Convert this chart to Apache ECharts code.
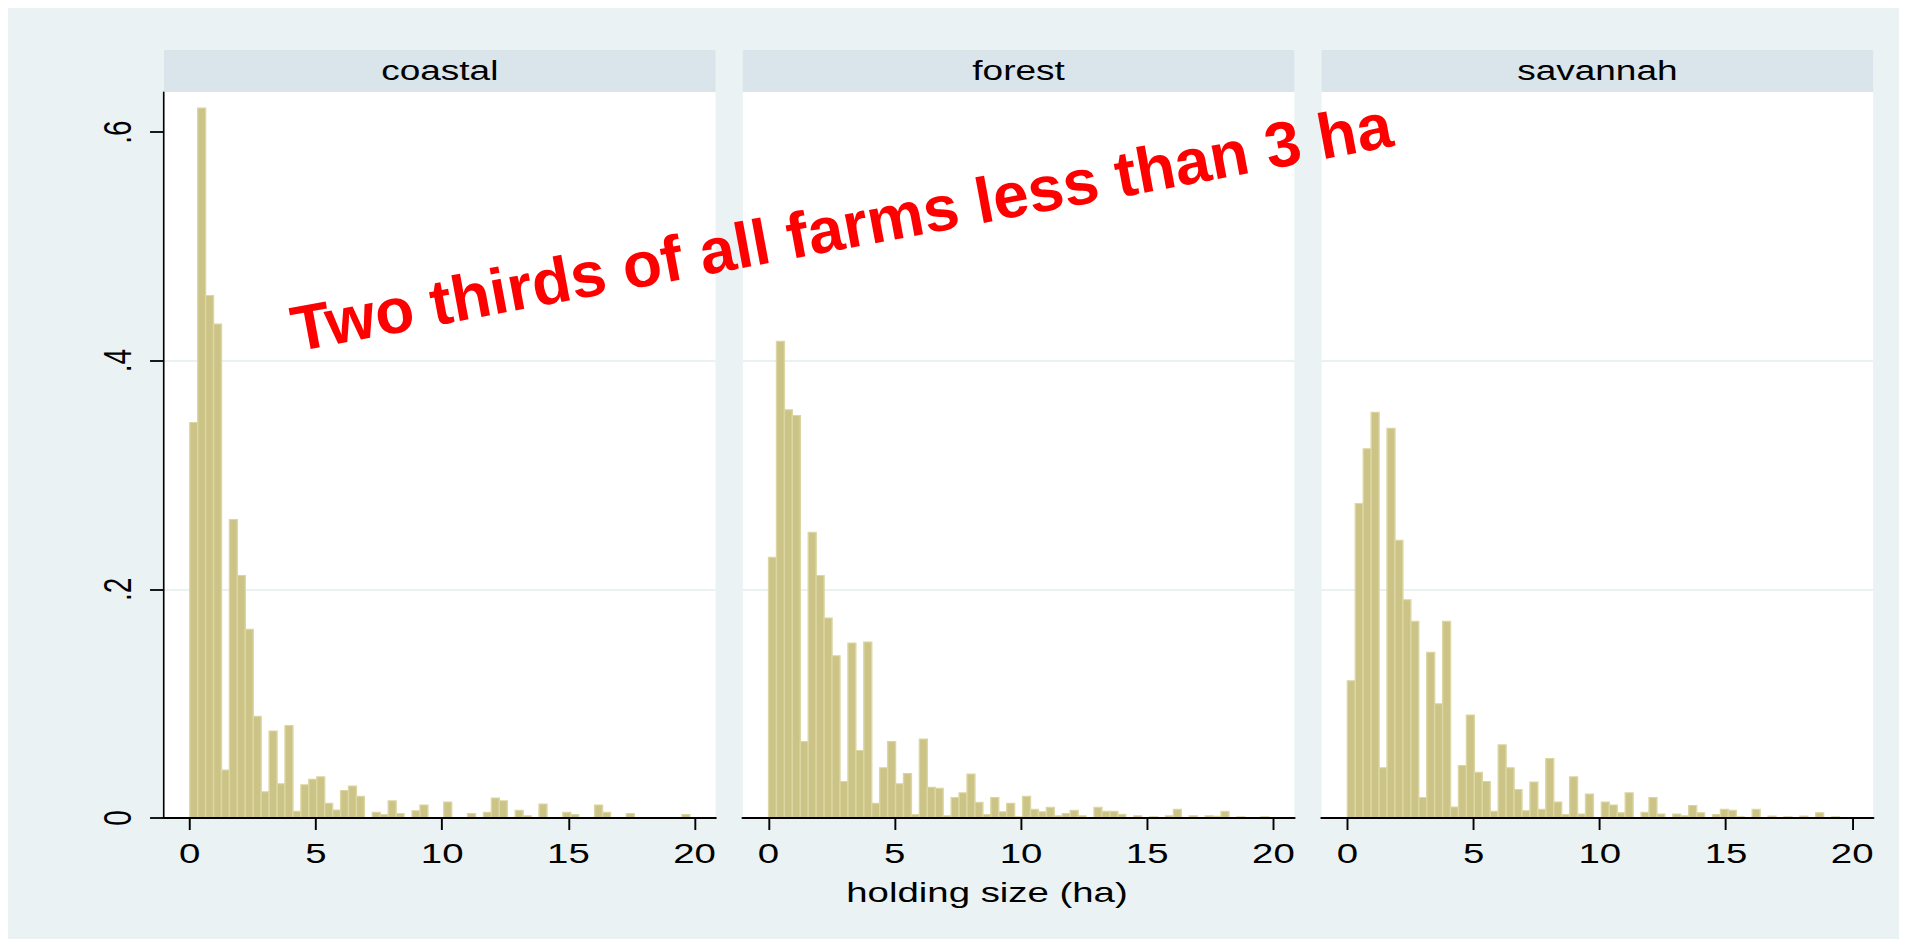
<!DOCTYPE html>
<html>
<head>
<meta charset="utf-8">
<title>holding size by region</title>
<script src="https://cdn.jsdelivr.net/npm/echarts@6/dist/echarts.min.js"></script>
<style>
  html, body { margin: 0; padding: 0; background: #fff; overflow: hidden; }
  /* the reference picture is stretched sideways, so the chart is drawn narrow and widened */
  #main { width: 1394px; height: 942px; transform: scaleX(1.3701); transform-origin: 0 0; }
</style>
</head>
<body>
<div id="main"></div>
<script>
  // histogram density per bin, bins start at 0
  const binWidth = 0.3145;
  const regions = ['coastal', 'forest', 'savannah'];
  const coastal = [0.346, 0.621, 0.457, 0.432, 0.042, 0.261, 0.212, 0.165, 0.089, 0.023,
    0.076, 0.030, 0.081, 0.006, 0.029, 0.034, 0.036, 0.013, 0.007, 0.024,
    0.028, 0.019, 0, 0.005, 0.003, 0.015, 0.004, 0, 0.0064, 0.0114,
    0, 0, 0.014, 0, 0, 0.004, 0, 0.005, 0.0175, 0.015,
    0, 0.0067, 0.002, 0, 0.0122, 0, 0, 0.005, 0.003, 0,
    0, 0.0114, 0.005, 0, 0, 0.004, 0, 0, 0, 0,
    0, 0, 0.003];
  const forest = [0.228, 0.417, 0.357, 0.352, 0.067, 0.250, 0.212, 0.175, 0.142, 0.032,
    0.153, 0.059, 0.154, 0.013, 0.044, 0.067, 0.030, 0.039, 0.003, 0.069,
    0.027, 0.026, 0.002, 0.018, 0.022, 0.0385, 0.0137, 0.003, 0.018, 0.0055,
    0.013, 0.001, 0.019, 0.0076, 0.0055, 0.0093, 0.002, 0.004, 0.0067, 0.002,
    0, 0.0093, 0.0058, 0.0058, 0.0032, 0, 0.002, 0, 0.0012, 0,
    0.002, 0.0076, 0, 0.002, 0, 0.002, 0.0015, 0.0058, 0, 0.0012,
    0, 0, 0.0012];
  const savannah = [0.120, 0.275, 0.323, 0.355, 0.044, 0.341, 0.243, 0.191, 0.172, 0.018,
    0.145, 0.100, 0.172, 0.0096, 0.046, 0.090, 0.040, 0.032, 0.006, 0.064,
    0.044, 0.025, 0.0064, 0.0315, 0.0076, 0.052, 0.014, 0.003, 0.036, 0.0035,
    0.021, 0, 0.014, 0.0114, 0.0047, 0.022, 0, 0.005, 0.018, 0.0035,
    0, 0.0035, 0.002, 0.011, 0.0047, 0, 0.003, 0.0076, 0.0067, 0.0012,
    0, 0.0076, 0, 0.0017, 0, 0.0012, 0, 0.0017, 0, 0.0047,
    0, 0.0012, 0];
  const xTicks = [0, 5, 10, 15, 20];
  const yTicks = [0, 0.2, 0.4, 0.6];
  const yTickLabels = ['0', '.2', '.4', '.6'];
  const xTitle = 'holding size (ha)';
  const note = 'Two thirds of all farms less than 3 ha';

  const stretch = 1.3701;
  const font = 'Liberation Sans';
  const panels = [coastal, forest, savannah];
  const panelWidth = 402.55;

  let grid = [], xAxis = [], yAxis = [], series = [];
  let graphic = [{
    type: 'rect', z: -100, silent: true,
    shape: { x: 8 / stretch, y: 8, width: 1891 / stretch, height: 931 },
    style: { fill: '#EAF2F3' }
  }];

  panels.forEach(function (values, i) {
    let left = 119.7 + i * 422.45;
    grid.push({ left: left, top: 92, width: panelWidth, height: 726, show: true, backgroundColor: '#fff', borderWidth: 0 });
    xAxis.push({
      type: 'value', gridIndex: i, min: -1.02, max: 20.83, z: 5,
      axisLine: { onZero: false, lineStyle: { color: '#000', width: 2 } },
      axisTick: { customValues: xTicks, length: 12, lineStyle: { color: '#000', width: 1.4 } },
      axisLabel: { customValues: xTicks, margin: 21, fontSize: 28, fontFamily: font, color: '#000' },
      splitLine: { show: false }
    });
    yAxis.push({
      type: 'value', gridIndex: i, min: 0, max: 0.635, interval: 0.2,
      axisLine: { show: i === 0, onZero: false, lineStyle: { color: '#000', width: 1.2 } },
      axisTick: { show: i === 0, customValues: yTicks, length: 10.2, lineStyle: { color: '#000', width: 1.8 } },
      axisLabel: {
        show: i === 0, customValues: yTicks, rotate: 90, margin: 20,
        fontSize: 28, fontFamily: font, color: '#000',
        formatter: function (v) {
          let k = yTicks.findIndex(t => Math.abs(t - v) < 1e-9);
          return k < 0 ? '' : yTickLabels[k];
        }
      },
      splitLine: { show: true, showMinLine: false, showMaxLine: false, lineStyle: { color: '#E9F1F3', width: 2 } }
    });
    series.push({
      type: 'custom', xAxisIndex: i, yAxisIndex: i,
      encode: { x: [0, 1], y: 2 },
      data: values.map((v, k) => [k * binWidth, (k + 1) * binWidth, v]),
      renderItem: function (params, api) {
        if (!api.value(2)) return null;
        let p0 = api.coord([api.value(0), api.value(2)]);
        let p1 = api.coord([api.value(1), 0]);
        return {
          type: 'rect',
          shape: { x: p0[0], y: p0[1], width: p1[0] - p0[0], height: p1[1] - p0[1] },
          style: { fill: '#CCC487', stroke: '#DCD6A3', lineWidth: 1 }
        };
      }
    });
    graphic.push({
      type: 'rect', silent: true,
      shape: { x: left, y: 50, width: panelWidth, height: 42 },
      style: { fill: '#D9E5EB' }
    });
    graphic.push({
      type: 'text', x: left + panelWidth / 2, y: 71,
      style: { text: regions[i], fontSize: 27, fontFamily: font, fill: '#000', align: 'center', verticalAlign: 'middle', textAlign: 'center', textVerticalAlign: 'middle' }
    });
  });

  graphic.push({
    type: 'text', x: 987 / stretch, y: 892,
    style: { text: xTitle, fontSize: 28, fontFamily: font, fill: '#000', align: 'center', verticalAlign: 'middle', textAlign: 'center', textVerticalAlign: 'middle' }
  });
  // the red note is not stretched in the reference: undo the widening for it
  graphic.push({
    type: 'group', x: 0, y: 0, scaleX: 1 / stretch, z: 10,
    children: [{
      type: 'text', x: 292, y: 330, rotation: 10.6 * Math.PI / 180,
      style: {
        text: note, fontSize: 64, fontWeight: 'bold', fontFamily: font, fill: '#FF0000',
        align: 'left', verticalAlign: 'middle', textAlign: 'left', textVerticalAlign: 'middle'
      }
    }]
  });

  let mychart = echarts.init(document.getElementById('main'), null, { renderer: 'svg' });
  mychart.setOption({
    animation: false,
    backgroundColor: '#fff',
    grid: grid,
    xAxis: xAxis,
    yAxis: yAxis,
    series: series,
    graphic: graphic
  });
</script>
</body>
</html>
